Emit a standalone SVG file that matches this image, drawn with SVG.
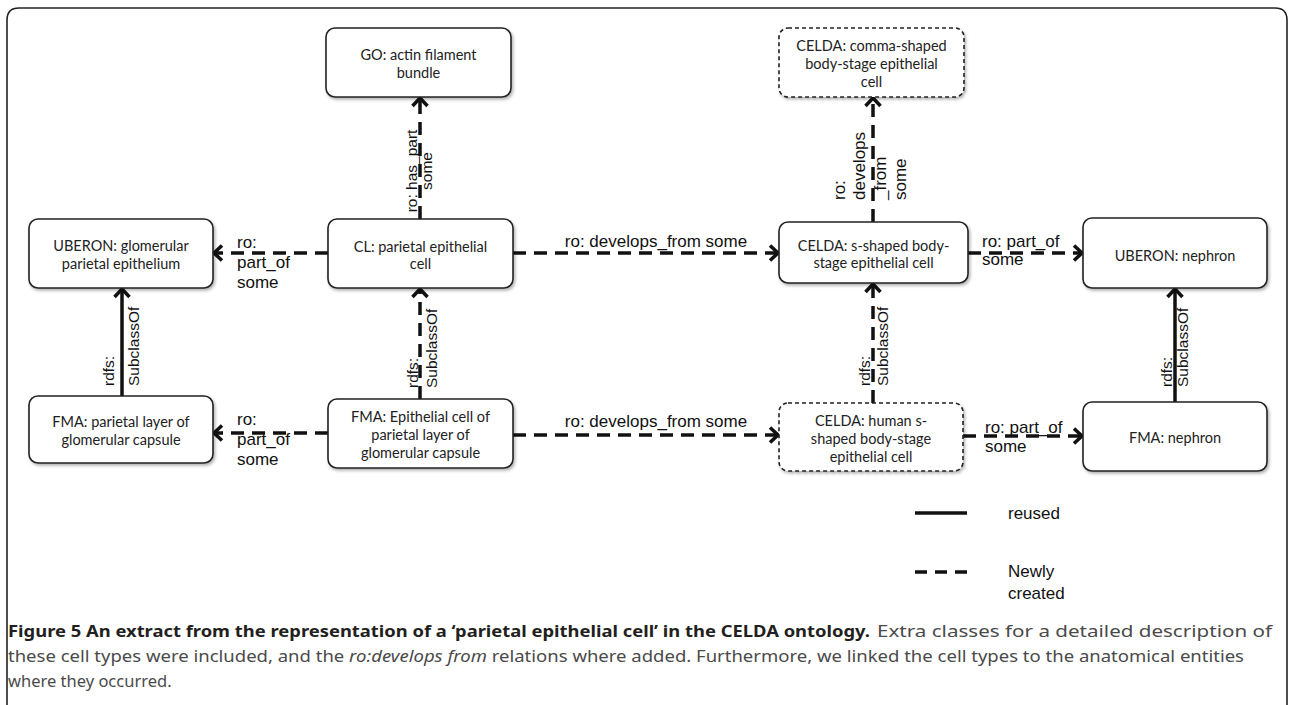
<svg xmlns="http://www.w3.org/2000/svg" width="1289" height="705" viewBox="0 0 1289 705">
<style>
.box{fill:#fff;stroke:#222;stroke-width:1.6;filter:url(#sh)}
.dbox{fill:#fff;stroke:#222;stroke-width:1.6;stroke-dasharray:4 3;filter:url(#sh)}
.nt{font-family:Lato,"Open Sans",sans-serif;font-size:14.5px;fill:#222;text-anchor:middle}
.el{font-family:"Liberation Sans",Arial,sans-serif;font-size:17px;fill:#111}
.vl{font-family:"Liberation Sans",Arial,sans-serif;font-size:15.5px;fill:#111}
.solid{fill:none;stroke:#111;stroke-width:3.5}
.dash{fill:none;stroke:#111;stroke-width:3.5;stroke-dasharray:13 8}
.cap{font-family:"Noto Sans",sans-serif;font-size:16.5px}
</style>
<defs>
<filter id="sh" x="-10%" y="-10%" width="125%" height="130%">
<feDropShadow dx="1.5" dy="2" stdDeviation="1.5" flood-color="#000" flood-opacity="0.3"/>
</filter>
<marker id="ah" viewBox="0 0 12 18" refX="10" refY="9" markerWidth="12" markerHeight="18" markerUnits="userSpaceOnUse" orient="auto">
<path d="M2,1.5 L10,9 L2,16.5" fill="none" stroke="#111" stroke-width="3.5"/>
</marker>
</defs>
<path d="M7,705 L7,20 Q7,8 19,8 L1275,8 Q1287,8 1287,20 L1287,705" fill="none" stroke="#222" stroke-width="1.6"/>

<g id="connectors">
<path class="dash" d="M420,219 L420,98" marker-end="url(#ah)"/>
<path class="dash" d="M873,222 L873,98" marker-end="url(#ah)"/>
<path class="dash" d="M328,253 L214,253" marker-end="url(#ah)"/>
<path class="dash" d="M328,433 L214,433" marker-end="url(#ah)"/>
<path class="dash" d="M513,253 L778,253" marker-end="url(#ah)"/>
<path class="dash" d="M513,435 L778,435" marker-end="url(#ah)"/>
<path class="dash" d="M968,253 L1082,253" marker-end="url(#ah)"/>
<path class="dash" d="M963,436 L1082,436" marker-end="url(#ah)"/>
<path class="solid" d="M122,396 L122,289" marker-end="url(#ah)"/>
<path class="dash" d="M420,399 L420,289" marker-end="url(#ah)"/>
<path class="dash" d="M873,403 L873,284" marker-end="url(#ah)"/>
<path class="solid" d="M1175,402 L1175,289" marker-end="url(#ah)"/>

<text class="vl" transform="translate(417,171) rotate(-90)" text-anchor="middle">ro: has_part</text>
<text class="vl" transform="translate(432,171) rotate(-90)" text-anchor="middle">some</text>

<text class="el" transform="translate(845,200) rotate(-90)">ro:</text>
<text class="el" transform="translate(865,200) rotate(-90)">develops</text>
<text class="el" transform="translate(886,200) rotate(-90)">_from</text>
<text class="el" transform="translate(906,200) rotate(-90)">some</text>

<text class="el" x="237" y="248">ro:</text>
<text class="el" x="237" y="268">part_of</text>
<text class="el" x="237" y="288">some</text>
<text class="el" x="237" y="425">ro:</text>
<text class="el" x="237" y="445">part_of</text>
<text class="el" x="237" y="465">some</text>

<text class="el" x="656" y="247" text-anchor="middle">ro: develops_from some</text>
<text class="el" x="656" y="427" text-anchor="middle">ro: develops_from some</text>

<text class="el" x="982" y="247">ro: part_of</text>
<text class="el" x="982" y="265">some</text>
<text class="el" x="985" y="433">ro: part_of</text>
<text class="el" x="985" y="452">some</text>

<text class="vl" transform="translate(114,386) rotate(-90)">rdfs:</text>
<text class="vl" transform="translate(139,386) rotate(-90)">SubclassOf</text>
<text class="vl" transform="translate(418,388) rotate(-90)">rdfs:</text>
<text class="vl" transform="translate(437,388) rotate(-90)">SubclassOf</text>
<text class="vl" transform="translate(870,386) rotate(-90)">rdfs:</text>
<text class="vl" transform="translate(888,386) rotate(-90)">SubclassOf</text>
<text class="vl" transform="translate(1172,387) rotate(-90)">rdfs:</text>
<text class="vl" transform="translate(1188,387) rotate(-90)">SubclassOf</text>
</g>

<g id="go">
<rect class="box" x="326" y="28" width="185" height="69" rx="9"/>
<text class="nt" x="418.5" y="60">GO: actin filament</text>
<text class="nt" x="418.5" y="78">bundle</text>
</g>
<g id="celda-comma">
<rect class="dbox" x="779" y="28" width="185" height="69" rx="9"/>
<text class="nt" x="871.5" y="51">CELDA: comma-shaped</text>
<text class="nt" x="871.5" y="69">body-stage epithelial</text>
<text class="nt" x="871.5" y="87">cell</text>
</g>
<g id="uberon-glom">
<rect class="box" x="29" y="219" width="184" height="69" rx="9"/>
<text class="nt" x="121" y="251">UBERON: glomerular</text>
<text class="nt" x="121" y="269">parietal epithelium</text>
</g>
<g id="cl">
<rect class="box" x="328" y="219" width="185" height="69" rx="9"/>
<text class="nt" x="420.5" y="252">CL: parietal epithelial</text>
<text class="nt" x="420.5" y="269">cell</text>
</g>
<g id="celda-s">
<rect class="box" x="779" y="222" width="189" height="61" rx="9"/>
<text class="nt" x="873.5" y="251">CELDA: s-shaped body-</text>
<text class="nt" x="873.5" y="268">stage epithelial cell</text>
</g>
<g id="uberon-nephron">
<rect class="box" x="1083" y="218" width="184" height="70" rx="9"/>
<text class="nt" x="1175" y="261">UBERON: nephron</text>
</g>
<g id="fma-parietal">
<rect class="box" x="29" y="396" width="184" height="67" rx="9"/>
<text class="nt" x="121" y="427">FMA: parietal layer of</text>
<text class="nt" x="121" y="445">glomerular capsule</text>
</g>
<g id="fma-epithelial">
<rect class="box" x="328" y="399" width="185" height="69" rx="9"/>
<text class="nt" x="420.5" y="422">FMA: Epithelial cell of</text>
<text class="nt" x="420.5" y="440">parietal layer of</text>
<text class="nt" x="420.5" y="458">glomerular capsule</text>
</g>
<g id="celda-human">
<rect class="dbox" x="779" y="403" width="184" height="68" rx="9"/>
<text class="nt" x="871" y="426">CELDA: human s-</text>
<text class="nt" x="871" y="444">shaped body-stage</text>
<text class="nt" x="871" y="462">epithelial cell</text>
</g>
<g id="fma-nephron">
<rect class="box" x="1083" y="402" width="184" height="69" rx="9"/>
<text class="nt" x="1175" y="443">FMA: nephron</text>
</g>

<g id="legend">
<path class="solid" d="M915,513 L967,513"/>
<text class="el" x="1008" y="519">reused</text>
<path class="dash" d="M915,572 L967,572" style="stroke-dasharray:12 8"/>
<text class="el" x="1008" y="577">Newly</text>
<text class="el" x="1008" y="599">created</text>
</g>

<g id="caption">
<text class="cap" x="8" y="637" textLength="862" lengthAdjust="spacingAndGlyphs" font-weight="bold" fill="#231f20">Figure 5 An extract from the representation of a ‘parietal epithelial cell’ in the CELDA ontology.</text>
<text class="cap" x="877" y="637" textLength="395" lengthAdjust="spacingAndGlyphs" fill="#4a4a4a">Extra classes for a detailed description of</text>
<text class="cap" x="8" y="662" textLength="1236" lengthAdjust="spacingAndGlyphs" fill="#4a4a4a">these cell types were included, and the <tspan font-style="italic">ro:develops from</tspan> relations where added. Furthermore, we linked the cell types to the anatomical entities</text>
<text class="cap" x="8" y="687" fill="#4a4a4a">where they occurred.</text>
</g>
</svg>
